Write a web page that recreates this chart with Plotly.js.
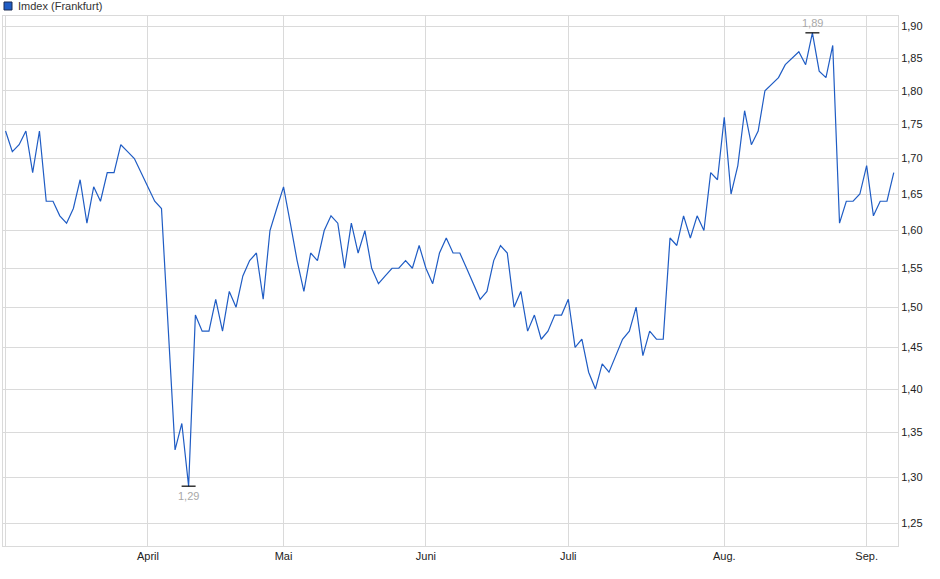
<!DOCTYPE html>
<html>
<head>
<meta charset="utf-8">
<script src="https://cdn.plot.ly/plotly-3.0.1.min.js"></script>
<style>
  html, body { margin: 0; padding: 0; background: #fff; }
  #chart { width: 940px; height: 579px; }
</style>
</head>
<body>
<div id="chart"></div>
<script>
// trading days (Frankfurt), 2025
var marDays = [3,4,5,6,7,10,11,12,13,14,17,18,19,20,21,24,25,26,27,28,31];
var aprDays = [1,2,3,4,7,8,9,10,11,14,15,16,17,22,23,24,25,28,29,30];
var mayDays = [2,5,6,7,8,9,12,13,14,15,16,19,20,21,22,23,26,27,28,29,30];
var junDays = [2,3,4,5,6,9,10,11,12,13,16,17,18,19,20,23,24,25,26,27,30];
var julDays = [1,2,3,4,7,8,9,10,11,14,15,16,17,18,21,22,23,24,25,28,29,30,31];
var augDays = [1,4,5,6,7,8,11,12,13,14,15,18,19,20,21,22,25,26,27,28,29];
var sepDays = [1,2,3,4,5];
var holidays = ['2025-04-18', '2025-04-21', '2025-05-01'];

// closing prices, EUR
var marPrices = [1.74,1.71,1.72,1.74,1.68,1.74,1.64,1.64,1.62,1.61,1.63,1.67,1.61,1.66,1.64,1.68,1.68,1.72,1.71,1.70,1.68];
var aprPrices = [1.66,1.64,1.63,1.48,1.33,1.36,1.29,1.49,1.47,1.47,1.51,1.47,1.52,1.50,1.54,1.56,1.57,1.51,1.60,1.63];
var mayPrices = [1.66,1.61,1.56,1.52,1.57,1.56,1.60,1.62,1.61,1.55,1.61,1.57,1.60,1.55,1.53,1.54,1.55,1.55,1.56,1.55,1.58];
var junPrices = [1.55,1.53,1.57,1.59,1.57,1.57,1.55,1.53,1.51,1.52,1.56,1.58,1.57,1.50,1.52,1.47,1.49,1.46,1.47,1.49,1.49];
var julPrices = [1.51,1.45,1.46,1.42,1.40,1.43,1.42,1.44,1.46,1.47,1.50,1.44,1.47,1.46,1.46,1.59,1.58,1.62,1.59,1.62,1.60,1.68,1.67];
var augPrices = [1.76,1.65,1.69,1.77,1.72,1.74,1.80,1.81,1.82,1.84,1.85,1.86,1.84,1.89,1.83,1.82,1.87,1.61,1.64,1.64,1.65];
var sepPrices = [1.69,1.62,1.64,1.64,1.68];

var monthTicks = ['2025-03-03','2025-04-01','2025-05-02','2025-06-02','2025-07-01','2025-08-01','2025-09-01'];
var monthLabels = ['', 'April', 'Mai', 'Juni', 'Juli', 'Aug.', 'Sep.'];
var priceTicks = [1.25,1.30,1.35,1.40,1.45,1.50,1.55,1.60,1.65,1.70,1.75,1.80,1.85,1.90];

function pad(n){
    return n < 10 ? '0' + n : '' + n;
}

var dates = [];
[[3, marDays],[4, aprDays],[5, mayDays],[6, junDays],[7, julDays],[8, augDays],[9, sepDays]].forEach(function(m){
    m[1].forEach(function(d){
        dates.push('2025-' + pad(m[0]) + '-' + pad(d));
    });
});
var prices = [].concat(marPrices, aprPrices, mayPrices, junPrices, julPrices, augPrices, sepPrices);

// extremes
var iMax = 0, iMin = 0;
prices.forEach(function(p, i){
    if(p > prices[iMax]) iMax = i;
    if(p < prices[iMin]) iMin = i;
});
function fmt(v){
    return v.toFixed(2).replace('.', ',');
}

var trace = {
    x: dates,
    y: prices,
    type: 'scatter',
    mode: 'lines',
    line: { color: '#1f5cc4', width: 1.2 },
    hoverinfo: 'x+y',
    showlegend: false
};

// little black bars marking the high and the low
var extremes = {
    x: [dates[iMax], dates[iMin]],
    y: [prices[iMax], prices[iMin]],
    type: 'scatter',
    mode: 'markers',
    marker: { symbol: 'line-ew', size: 10, color: '#000', line: { color: '#000', width: 1.2 } },
    hoverinfo: 'skip',
    showlegend: false
};

var lightGrid = '#dadada';

var layout = {
    width: 940,
    height: 579,
    margin: { l: 3, r: 42, t: 16, b: 33 },
    paper_bgcolor: '#fff',
    plot_bgcolor: '#fff',
    separators: ',.',
    font: { family: 'Liberation Sans, Arial, sans-serif', size: 11, color: '#333' },
    xaxis: {
        type: 'date',
        range: ['2025-02-28 15:00', '2025-09-05 15:00'],
        rangebreaks: [ { bounds: ['sat', 'mon'] }, { values: holidays } ],
        tickmode: 'array',
        tickvals: monthTicks,
        ticktext: monthLabels,
        showgrid: true,
        gridcolor: lightGrid,
        gridwidth: 1,
        showline: true,
        linecolor: lightGrid,
        linewidth: 1,
        mirror: true,
        ticks: '',
        zeroline: false,
        tickfont: { size: 11, color: '#222' }
    },
    yaxis: {
        type: 'log',
        side: 'right',
        range: [Math.log10(1.2266), Math.log10(1.917)],
        tickmode: 'array',
        tickvals: priceTicks,
        tickformat: '.2f',
        showgrid: true,
        gridcolor: lightGrid,
        gridwidth: 1,
        showline: true,
        linecolor: lightGrid,
        linewidth: 1,
        mirror: true,
        ticks: '',
        zeroline: false,
        tickfont: { size: 11, color: '#222' }
    },
    shapes: [
        // legend swatch
        { type: 'rect', xref: 'paper', yref: 'paper', xsizemode: 'pixel', ysizemode: 'pixel',
          xanchor: 0, yanchor: 1, x0: 1, x1: 9, y0: 6, y1: 14,
          fillcolor: '#1f5cc4', line: { color: '#1a2a50', width: 1 } }
    ],
    annotations: [
        { xref: 'paper', yref: 'paper', x: 0.0145, y: 1, xanchor: 'left', yanchor: 'middle',
          yshift: 10, showarrow: false, text: 'Imdex (Frankfurt)',
          font: { size: 11, color: '#333' } },
        { xref: 'x', yref: 'y', x: dates[iMax], y: Math.log10(prices[iMax]),
          yanchor: 'middle', yshift: 10, showarrow: false, text: fmt(prices[iMax]),
          font: { size: 11, color: '#a8a8a8' } },
        { xref: 'x', yref: 'y', x: dates[iMin], y: Math.log10(prices[iMin]),
          yanchor: 'middle', yshift: -10, showarrow: false, text: fmt(prices[iMin]),
          font: { size: 11, color: '#a8a8a8' } }
    ],
    showlegend: false
};

Plotly.newPlot('chart', [trace, extremes], layout, { displayModeBar: false, staticPlot: true });
</script>
</body>
</html>
